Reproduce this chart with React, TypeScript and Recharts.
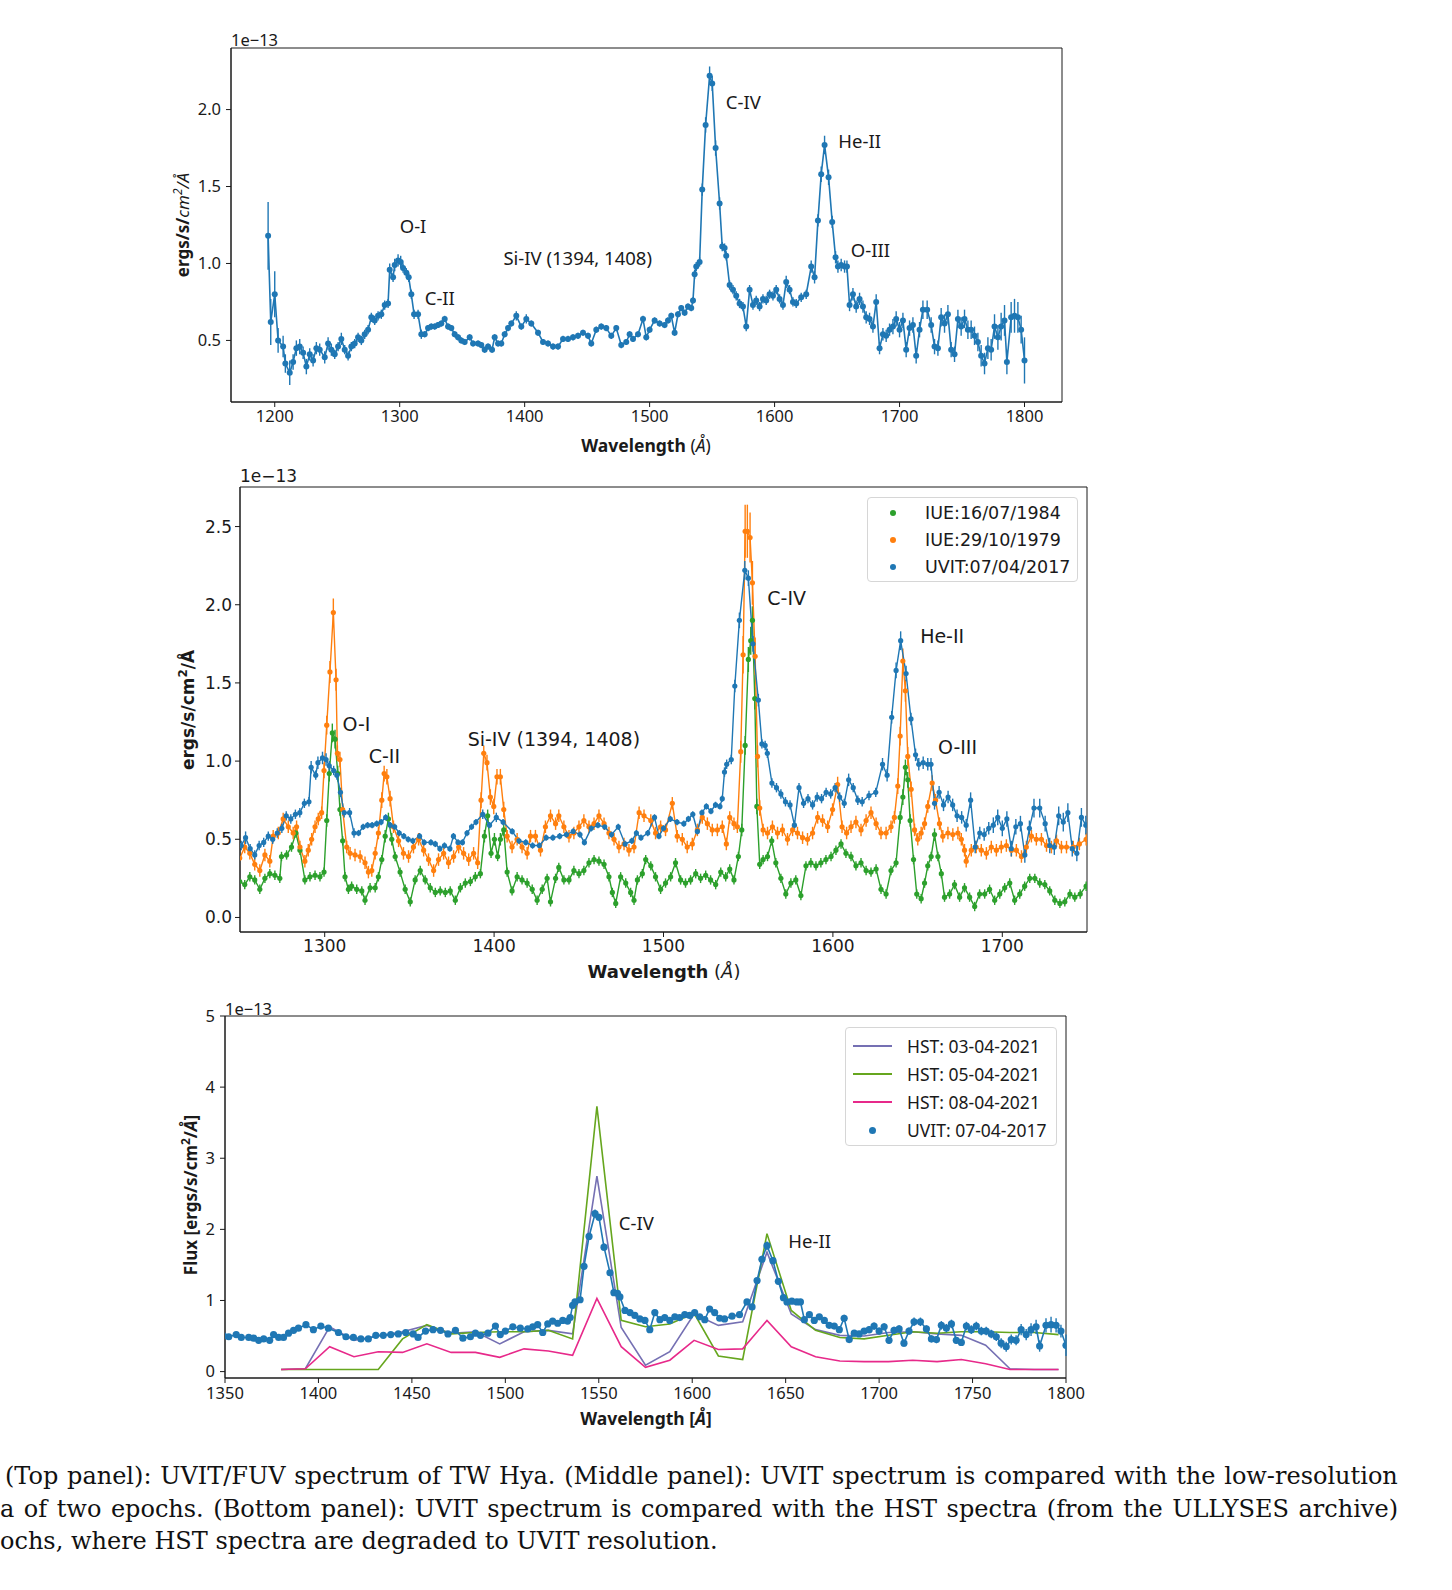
import React from 'react';
import { LineChart, Line, XAxis, YAxis, ErrorBar, ReferenceArea, ReferenceDot } from 'recharts';

// flux in units of 1e-13 ergs/s/cm^2/Å; rows are [wavelength Å, flux, 1-sigma error]
const UVIT_2017: [number, number, number][] = [
  [1194.7, 1.18, 0.22], [1196.8, 0.62, 0.15], [1200.0, 0.80, 0.15], [1202.7, 0.50, 0.08],
  [1206.7, 0.46, 0.07], [1208.5, 0.35, 0.06], [1212.0, 0.29, 0.08], [1214.7, 0.36, 0.05],
  [1217.3, 0.45, 0.05], [1220.0, 0.46, 0.05], [1222.7, 0.42, 0.04], [1225.3, 0.33, 0.05],
  [1228.0, 0.41, 0.04], [1230.7, 0.37, 0.04], [1233.3, 0.45, 0.04], [1236.0, 0.44, 0.04],
  [1240.0, 0.39, 0.04], [1242.7, 0.48, 0.04], [1245.3, 0.44, 0.04], [1248.0, 0.41, 0.03],
  [1250.7, 0.46, 0.03], [1253.3, 0.51, 0.04], [1256.0, 0.44, 0.03], [1258.7, 0.40, 0.03],
  [1261.3, 0.46, 0.03], [1264.0, 0.48, 0.03], [1266.7, 0.52, 0.03], [1269.3, 0.50, 0.03],
  [1272.0, 0.54, 0.03], [1274.7, 0.57, 0.03], [1277.3, 0.65, 0.03], [1280.0, 0.63, 0.03],
  [1282.7, 0.66, 0.03], [1285.3, 0.67, 0.03], [1288.0, 0.73, 0.03], [1290.7, 0.74, 0.03],
  [1292.0, 0.96, 0.04], [1294.7, 0.91, 0.03], [1296.0, 0.99, 0.04], [1298.7, 1.02, 0.04],
  [1300.8, 1.01, 0.04], [1302.7, 0.97, 0.03], [1305.3, 0.94, 0.03], [1307.2, 0.91, 0.03],
  [1309.3, 0.80, 0.03], [1311.5, 0.67, 0.03], [1314.7, 0.67, 0.03], [1317.3, 0.54, 0.03],
  [1320.0, 0.54, 0.02], [1322.7, 0.58, 0.02], [1325.3, 0.59, 0.02], [1328.0, 0.59, 0.02],
  [1330.7, 0.60, 0.02], [1333.3, 0.61, 0.02], [1336.0, 0.64, 0.02], [1338.7, 0.59, 0.02],
  [1341.3, 0.58, 0.02], [1344.0, 0.54, 0.02], [1346.7, 0.52, 0.02], [1349.3, 0.50, 0.02],
  [1352.0, 0.49, 0.02], [1356.0, 0.52, 0.02], [1358.7, 0.48, 0.02], [1362.7, 0.48, 0.02],
  [1365.3, 0.47, 0.02], [1368.0, 0.44, 0.02], [1370.7, 0.46, 0.02], [1373.9, 0.44, 0.02],
  [1376.0, 0.52, 0.02], [1378.7, 0.48, 0.02], [1381.3, 0.48, 0.02], [1384.0, 0.54, 0.02],
  [1386.7, 0.58, 0.02], [1389.3, 0.61, 0.02], [1393.3, 0.66, 0.03], [1397.3, 0.59, 0.02],
  [1401.3, 0.64, 0.03], [1405.3, 0.61, 0.02], [1410.7, 0.55, 0.02], [1414.7, 0.49, 0.02],
  [1418.7, 0.48, 0.02], [1422.7, 0.46, 0.02], [1426.7, 0.46, 0.02], [1430.7, 0.51, 0.02],
  [1434.7, 0.51, 0.02], [1438.7, 0.52, 0.02], [1442.7, 0.53, 0.02], [1446.7, 0.55, 0.02],
  [1450.7, 0.53, 0.02], [1453.3, 0.48, 0.02], [1457.3, 0.57, 0.02], [1461.3, 0.59, 0.02],
  [1465.3, 0.58, 0.02], [1469.3, 0.53, 0.02], [1473.3, 0.58, 0.02], [1477.3, 0.47, 0.02],
  [1481.3, 0.49, 0.02], [1484.0, 0.54, 0.02], [1486.7, 0.51, 0.02], [1490.7, 0.54, 0.02],
  [1494.7, 0.64, 0.02], [1497.3, 0.52, 0.02], [1500.0, 0.57, 0.02], [1504.0, 0.63, 0.02],
  [1508.0, 0.61, 0.02], [1512.0, 0.60, 0.02], [1514.7, 0.63, 0.02], [1517.3, 0.66, 0.02],
  [1520.0, 0.55, 0.02], [1522.7, 0.67, 0.02], [1525.3, 0.71, 0.02], [1528.0, 0.68, 0.02],
  [1530.7, 0.72, 0.02], [1533.3, 0.71, 0.02], [1534.7, 0.76, 0.02], [1536.0, 0.93, 0.03],
  [1537.3, 0.98, 0.03], [1540.0, 1.01, 0.03], [1542.1, 1.48, 0.04], [1544.8, 1.90, 0.05],
  [1548.0, 2.22, 0.06], [1550.1, 2.17, 0.05], [1552.8, 1.75, 0.05], [1556.0, 1.39, 0.04],
  [1558.1, 1.11, 0.03], [1560.0, 1.10, 0.03], [1561.3, 1.05, 0.03], [1564.0, 0.86, 0.03],
  [1566.7, 0.83, 0.03], [1569.3, 0.79, 0.03], [1572.0, 0.74, 0.03], [1574.7, 0.72, 0.03],
  [1577.3, 0.59, 0.03], [1580.0, 0.83, 0.03], [1582.7, 0.73, 0.03], [1585.3, 0.76, 0.03],
  [1588.0, 0.72, 0.03], [1590.7, 0.77, 0.03], [1593.3, 0.76, 0.03], [1596.0, 0.80, 0.03],
  [1598.7, 0.79, 0.03], [1601.3, 0.83, 0.03], [1604.0, 0.77, 0.03], [1606.7, 0.73, 0.03],
  [1609.3, 0.88, 0.04], [1612.0, 0.83, 0.03], [1614.7, 0.75, 0.03], [1617.3, 0.74, 0.03],
  [1621.3, 0.78, 0.03], [1625.3, 0.80, 0.03], [1629.3, 0.98, 0.04], [1632.0, 0.91, 0.04],
  [1634.7, 1.28, 0.04], [1637.3, 1.58, 0.05], [1640.0, 1.77, 0.06], [1643.2, 1.56, 0.05],
  [1646.1, 1.27, 0.04], [1648.8, 1.04, 0.04], [1650.7, 0.98, 0.04], [1653.3, 0.99, 0.04],
  [1656.0, 0.98, 0.04], [1657.9, 0.98, 0.04], [1660.0, 0.73, 0.04], [1662.7, 0.80, 0.04],
  [1665.3, 0.72, 0.04], [1668.0, 0.77, 0.04], [1670.7, 0.72, 0.04], [1673.3, 0.65, 0.04],
  [1676.0, 0.64, 0.04], [1678.7, 0.59, 0.04], [1681.3, 0.75, 0.05], [1684.0, 0.45, 0.04],
  [1686.7, 0.54, 0.04], [1689.3, 0.53, 0.04], [1692.0, 0.57, 0.04], [1694.7, 0.59, 0.05],
  [1697.3, 0.64, 0.05], [1700.0, 0.57, 0.05], [1702.7, 0.63, 0.05], [1705.3, 0.44, 0.05],
  [1708.0, 0.58, 0.05], [1710.7, 0.60, 0.05], [1713.3, 0.40, 0.05], [1716.0, 0.57, 0.05],
  [1718.7, 0.70, 0.06], [1722.1, 0.70, 0.06], [1725.3, 0.60, 0.05], [1728.0, 0.46, 0.05],
  [1730.7, 0.45, 0.05], [1733.3, 0.65, 0.06], [1736.0, 0.61, 0.06], [1738.7, 0.67, 0.06],
  [1741.3, 0.44, 0.05], [1744.0, 0.41, 0.05], [1746.7, 0.64, 0.06], [1749.3, 0.59, 0.06],
  [1752.0, 0.64, 0.06], [1754.7, 0.57, 0.06], [1757.3, 0.57, 0.06], [1760.0, 0.53, 0.06],
  [1762.7, 0.49, 0.06], [1765.3, 0.40, 0.07], [1768.0, 0.35, 0.07], [1770.7, 0.45, 0.07],
  [1773.3, 0.44, 0.07], [1776.0, 0.59, 0.08], [1778.7, 0.52, 0.08], [1781.3, 0.59, 0.09],
  [1784.0, 0.63, 0.10], [1785.9, 0.36, 0.08], [1789.3, 0.65, 0.10], [1792.0, 0.66, 0.11],
  [1794.7, 0.65, 0.10], [1797.3, 0.57, 0.09], [1800.0, 0.37, 0.15],
];

const IUE_1979: [number, number, number][] = [
  [1249.9, 0.38, 0.04], [1252.8, 0.45, 0.04], [1255.8, 0.41, 0.04], [1258.7, 0.34, 0.04],
  [1261.7, 0.30, 0.04], [1264.7, 0.40, 0.04], [1267.6, 0.36, 0.04], [1269.6, 0.52, 0.04],
  [1272.6, 0.54, 0.04], [1275.5, 0.63, 0.04], [1278.5, 0.58, 0.04], [1281.4, 0.54, 0.04],
  [1283.4, 0.58, 0.04], [1285.4, 0.45, 0.04], [1288.3, 0.36, 0.04], [1290.3, 0.43, 0.04],
  [1292.3, 0.50, 0.04], [1294.3, 0.58, 0.04], [1296.2, 0.63, 0.04], [1298.2, 0.67, 0.04],
  [1299.6, 0.94, 0.05], [1301.2, 1.23, 0.06], [1303.1, 1.57, 0.07], [1305.1, 1.95, 0.09],
  [1306.7, 1.52, 0.07], [1307.5, 1.05, 0.05], [1309.0, 1.01, 0.05], [1310.6, 0.69, 0.04],
  [1313.0, 0.45, 0.04], [1315.0, 0.41, 0.04], [1317.9, 0.40, 0.04], [1320.9, 0.39, 0.04],
  [1323.8, 0.35, 0.04], [1325.8, 0.29, 0.04], [1327.8, 0.30, 0.04], [1329.8, 0.41, 0.04],
  [1331.7, 0.54, 0.04], [1333.7, 0.75, 0.05], [1335.1, 0.92, 0.05], [1336.7, 0.90, 0.05],
  [1338.6, 0.76, 0.05], [1340.6, 0.58, 0.04], [1343.6, 0.49, 0.04], [1346.5, 0.41, 0.04],
  [1349.5, 0.39, 0.04], [1352.4, 0.45, 0.04], [1355.4, 0.50, 0.04], [1358.4, 0.43, 0.04],
  [1361.3, 0.37, 0.04], [1364.3, 0.30, 0.04], [1367.2, 0.37, 0.04], [1370.2, 0.41, 0.04],
  [1373.1, 0.35, 0.04], [1376.1, 0.39, 0.04], [1379.1, 0.45, 0.04], [1382.0, 0.41, 0.04],
  [1385.0, 0.37, 0.04], [1387.9, 0.41, 0.04], [1390.3, 0.35, 0.04], [1392.3, 0.75, 0.05],
  [1393.9, 1.05, 0.05], [1395.8, 0.99, 0.05], [1397.8, 0.77, 0.05], [1399.8, 0.71, 0.05],
  [1401.7, 0.90, 0.05], [1403.7, 0.90, 0.05], [1405.7, 0.69, 0.05], [1407.7, 0.52, 0.04],
  [1410.6, 0.45, 0.04], [1413.6, 0.50, 0.04], [1416.5, 0.45, 0.04], [1419.5, 0.41, 0.04],
  [1421.5, 0.52, 0.04], [1424.4, 0.52, 0.04], [1427.4, 0.43, 0.04], [1430.3, 0.58, 0.04],
  [1433.3, 0.65, 0.04], [1436.3, 0.60, 0.04], [1438.2, 0.65, 0.04], [1441.2, 0.58, 0.04],
  [1444.2, 0.52, 0.04], [1447.1, 0.54, 0.04], [1450.1, 0.58, 0.04], [1453.0, 0.62, 0.04],
  [1456.0, 0.58, 0.04], [1459.0, 0.60, 0.04], [1461.9, 0.65, 0.04], [1464.9, 0.60, 0.04],
  [1467.8, 0.54, 0.04], [1470.8, 0.50, 0.04], [1473.7, 0.45, 0.04], [1476.7, 0.47, 0.04],
  [1479.6, 0.43, 0.04], [1482.6, 0.45, 0.04], [1485.6, 0.67, 0.04], [1488.5, 0.65, 0.04],
  [1492.5, 0.62, 0.04], [1495.3, 0.54, 0.04], [1498.3, 0.58, 0.04], [1501.2, 0.56, 0.04],
  [1505.2, 0.73, 0.04], [1508.1, 0.52, 0.04], [1511.1, 0.50, 0.04], [1514.0, 0.45, 0.04],
  [1517.0, 0.47, 0.04], [1520.0, 0.56, 0.04], [1522.9, 0.64, 0.04], [1525.9, 0.60, 0.04],
  [1528.8, 0.56, 0.04], [1531.8, 0.56, 0.04], [1534.7, 0.58, 0.04], [1537.1, 0.47, 0.04],
  [1539.1, 0.64, 0.04], [1541.6, 0.60, 0.04], [1543.6, 0.58, 0.04], [1545.6, 1.06, 0.07],
  [1547.0, 1.68, 0.12], [1548.2, 2.47, 0.17], [1549.5, 2.47, 0.17], [1551.1, 2.43, 0.16],
  [1552.5, 2.14, 0.14], [1554.1, 1.67, 0.12], [1555.5, 1.03, 0.07], [1556.8, 0.70, 0.05],
  [1558.8, 0.56, 0.04], [1561.4, 0.54, 0.04], [1564.3, 0.58, 0.04], [1567.3, 0.54, 0.04],
  [1570.2, 0.56, 0.04], [1573.2, 0.50, 0.04], [1576.2, 0.56, 0.04], [1579.1, 0.54, 0.04],
  [1582.1, 0.51, 0.04], [1585.0, 0.50, 0.04], [1588.0, 0.54, 0.04], [1591.0, 0.64, 0.04],
  [1593.9, 0.62, 0.04], [1596.9, 0.58, 0.04], [1599.8, 0.69, 0.04], [1602.8, 0.85, 0.05],
  [1605.4, 0.58, 0.04], [1608.1, 0.54, 0.04], [1610.7, 0.58, 0.04], [1613.6, 0.61, 0.04],
  [1616.6, 0.56, 0.04], [1619.6, 0.62, 0.04], [1622.5, 0.67, 0.04], [1625.5, 0.60, 0.04],
  [1628.4, 0.54, 0.04], [1631.4, 0.54, 0.04], [1634.3, 0.58, 0.04], [1636.3, 0.64, 0.04],
  [1638.3, 0.84, 0.05], [1639.7, 1.16, 0.06], [1641.3, 1.64, 0.08], [1642.8, 1.45, 0.07],
  [1644.2, 1.03, 0.06], [1646.2, 0.82, 0.05], [1648.2, 0.56, 0.04], [1650.1, 0.50, 0.04],
  [1652.1, 0.54, 0.04], [1654.1, 0.60, 0.04], [1656.0, 0.71, 0.04], [1658.6, 0.86, 0.05],
  [1660.6, 0.75, 0.04], [1662.9, 0.60, 0.04], [1664.9, 0.52, 0.04], [1667.9, 0.54, 0.04],
  [1670.8, 0.53, 0.04], [1673.8, 0.54, 0.04], [1675.8, 0.50, 0.04], [1677.7, 0.43, 0.04],
  [1678.7, 0.36, 0.04], [1681.7, 0.43, 0.04], [1684.6, 0.45, 0.04], [1687.6, 0.43, 0.04],
  [1690.6, 0.41, 0.04], [1693.5, 0.45, 0.04], [1696.5, 0.43, 0.04], [1699.4, 0.45, 0.04],
  [1702.4, 0.46, 0.04], [1705.4, 0.43, 0.04], [1708.3, 0.43, 0.04], [1711.3, 0.39, 0.04],
  [1714.2, 0.45, 0.04], [1717.2, 0.52, 0.04], [1720.1, 0.50, 0.04], [1723.1, 0.50, 0.04],
  [1726.1, 0.46, 0.04], [1729.0, 0.45, 0.04], [1732.0, 0.49, 0.04], [1734.9, 0.45, 0.04],
  [1737.9, 0.45, 0.04], [1741.9, 0.45, 0.04], [1745.5, 0.47, 0.04], [1749.5, 0.50, 0.04],
];

const IUE_1984: [number, number, number][] = [
  [1249.9, 0.23, 0.03], [1252.8, 0.21, 0.03], [1255.8, 0.26, 0.03], [1258.7, 0.24, 0.03],
  [1261.7, 0.18, 0.03], [1264.7, 0.25, 0.03], [1267.6, 0.28, 0.03], [1270.6, 0.27, 0.03],
  [1273.5, 0.25, 0.03], [1274.5, 0.39, 0.03], [1277.5, 0.40, 0.03], [1280.4, 0.45, 0.03],
  [1283.0, 0.54, 0.03], [1285.4, 0.43, 0.03], [1288.3, 0.24, 0.03], [1291.3, 0.26, 0.03],
  [1294.3, 0.27, 0.03], [1297.2, 0.26, 0.03], [1299.6, 0.29, 0.03], [1301.2, 0.62, 0.04],
  [1302.7, 0.92, 0.05], [1304.5, 1.18, 0.06], [1306.1, 1.14, 0.06], [1307.7, 0.92, 0.05],
  [1309.0, 0.69, 0.04], [1310.6, 0.49, 0.03], [1312.0, 0.26, 0.03], [1314.0, 0.18, 0.03],
  [1315.9, 0.20, 0.03], [1318.9, 0.18, 0.03], [1321.9, 0.17, 0.03], [1323.8, 0.11, 0.03],
  [1326.8, 0.19, 0.03], [1329.8, 0.19, 0.03], [1331.7, 0.26, 0.03], [1333.7, 0.37, 0.03],
  [1335.7, 0.52, 0.04], [1337.6, 0.63, 0.04], [1339.6, 0.50, 0.04], [1341.6, 0.39, 0.03],
  [1344.5, 0.29, 0.03], [1347.5, 0.18, 0.03], [1350.5, 0.10, 0.03], [1353.4, 0.24, 0.03],
  [1356.4, 0.30, 0.03], [1359.3, 0.24, 0.03], [1362.3, 0.19, 0.03], [1365.3, 0.16, 0.03],
  [1368.2, 0.17, 0.03], [1371.2, 0.16, 0.03], [1374.1, 0.17, 0.03], [1377.1, 0.11, 0.03],
  [1380.1, 0.19, 0.03], [1383.0, 0.22, 0.03], [1386.0, 0.23, 0.03], [1388.9, 0.26, 0.03],
  [1391.9, 0.28, 0.03], [1394.3, 0.52, 0.04], [1396.2, 0.65, 0.04], [1398.2, 0.41, 0.03],
  [1400.2, 0.50, 0.04], [1402.1, 0.39, 0.03], [1403.7, 0.50, 0.04], [1405.7, 0.56, 0.04],
  [1407.7, 0.29, 0.03], [1410.6, 0.17, 0.03], [1413.6, 0.26, 0.03], [1416.5, 0.24, 0.03],
  [1419.5, 0.22, 0.03], [1422.5, 0.18, 0.03], [1425.4, 0.11, 0.03], [1428.4, 0.18, 0.03],
  [1431.3, 0.25, 0.03], [1433.3, 0.10, 0.03], [1436.3, 0.25, 0.03], [1438.2, 0.32, 0.03],
  [1441.2, 0.24, 0.03], [1444.2, 0.24, 0.03], [1447.1, 0.30, 0.03], [1450.1, 0.28, 0.03],
  [1453.0, 0.30, 0.03], [1456.0, 0.35, 0.03], [1459.0, 0.37, 0.03], [1461.9, 0.36, 0.03],
  [1464.9, 0.34, 0.03], [1467.8, 0.26, 0.03], [1469.8, 0.16, 0.03], [1471.8, 0.09, 0.03],
  [1474.7, 0.26, 0.03], [1477.7, 0.22, 0.03], [1480.6, 0.16, 0.03], [1482.6, 0.11, 0.03],
  [1484.6, 0.24, 0.03], [1487.5, 0.28, 0.03], [1489.5, 0.37, 0.03], [1492.5, 0.33, 0.03],
  [1495.3, 0.26, 0.03], [1498.3, 0.18, 0.03], [1501.2, 0.22, 0.03], [1504.2, 0.26, 0.03],
  [1507.1, 0.35, 0.03], [1510.1, 0.24, 0.03], [1513.0, 0.22, 0.03], [1516.0, 0.24, 0.03],
  [1519.0, 0.28, 0.03], [1521.9, 0.25, 0.03], [1524.9, 0.27, 0.03], [1527.8, 0.24, 0.03],
  [1530.8, 0.21, 0.03], [1533.8, 0.29, 0.03], [1536.7, 0.26, 0.03], [1539.1, 0.31, 0.03],
  [1541.6, 0.24, 0.03], [1544.2, 0.39, 0.03], [1546.2, 0.56, 0.04], [1548.2, 1.10, 0.06],
  [1550.1, 1.65, 0.08], [1551.5, 1.77, 0.09], [1552.5, 1.90, 0.09], [1553.9, 1.40, 0.07],
  [1555.1, 0.71, 0.05], [1556.8, 0.34, 0.03], [1558.8, 0.37, 0.03], [1561.4, 0.39, 0.03],
  [1563.9, 0.49, 0.03], [1566.3, 0.35, 0.03], [1569.3, 0.25, 0.03], [1572.2, 0.15, 0.03],
  [1575.2, 0.22, 0.03], [1578.1, 0.24, 0.03], [1581.1, 0.14, 0.03], [1584.1, 0.33, 0.03],
  [1587.0, 0.35, 0.03], [1590.0, 0.33, 0.03], [1592.9, 0.35, 0.03], [1595.9, 0.37, 0.03],
  [1598.9, 0.39, 0.03], [1601.8, 0.43, 0.03], [1604.8, 0.47, 0.03], [1607.7, 0.41, 0.03],
  [1610.7, 0.39, 0.03], [1613.6, 0.33, 0.03], [1616.6, 0.35, 0.03], [1619.6, 0.30, 0.03],
  [1622.5, 0.29, 0.03], [1625.5, 0.31, 0.03], [1628.4, 0.18, 0.03], [1631.4, 0.15, 0.03],
  [1634.3, 0.30, 0.03], [1637.3, 0.35, 0.03], [1639.7, 0.64, 0.04], [1641.3, 0.77, 0.05],
  [1642.8, 0.96, 0.05], [1644.2, 0.88, 0.05], [1645.6, 0.62, 0.04], [1647.6, 0.37, 0.03],
  [1649.5, 0.15, 0.03], [1652.1, 0.12, 0.03], [1654.1, 0.22, 0.03], [1656.0, 0.33, 0.03],
  [1658.0, 0.39, 0.03], [1660.0, 0.53, 0.04], [1662.0, 0.39, 0.03], [1664.0, 0.28, 0.03],
  [1665.9, 0.13, 0.03], [1668.9, 0.15, 0.03], [1671.8, 0.21, 0.03], [1674.8, 0.13, 0.03],
  [1677.7, 0.19, 0.03], [1680.7, 0.13, 0.03], [1683.7, 0.07, 0.03], [1686.6, 0.15, 0.03],
  [1689.6, 0.15, 0.03], [1692.5, 0.18, 0.03], [1695.5, 0.11, 0.03], [1698.5, 0.15, 0.03],
  [1701.4, 0.19, 0.03], [1704.4, 0.22, 0.03], [1707.3, 0.11, 0.03], [1710.3, 0.15, 0.03],
  [1713.2, 0.20, 0.03], [1716.2, 0.25, 0.03], [1719.2, 0.25, 0.03], [1722.1, 0.22, 0.03],
  [1725.1, 0.21, 0.03], [1728.0, 0.17, 0.03], [1731.0, 0.11, 0.03], [1734.0, 0.09, 0.03],
  [1736.9, 0.10, 0.03], [1739.9, 0.15, 0.03], [1742.8, 0.13, 0.03], [1746.0, 0.15, 0.03],
  [1749.5, 0.20, 0.03],
];

// HST (ULLYSES) spectra degraded to UVIT resolution
const HST_WAVE = [
  1380, 1393, 1406, 1419, 1432, 1445, 1458, 1471, 1484, 1497, 1510, 1523, 1536, 1549, 1562, 1575, 1588,
  1601, 1614, 1627, 1640, 1653, 1666, 1679, 1692, 1705, 1718, 1731, 1744, 1757, 1770, 1783, 1796,
];
const HST_03_04 = [
  0.03, 0.04, 0.63, 0.44, 0.50, 0.56, 0.65, 0.54, 0.56, 0.39, 0.56, 0.58, 0.53, 2.75, 0.62, 0.09, 0.28,
  0.81, 0.65, 0.70, 1.68, 0.81, 0.59, 0.51, 0.50, 0.55, 0.56, 0.53, 0.51, 0.37, 0.04, 0.03, 0.03,
];
const HST_05_04 = [
  0.03, 0.03, 0.03, 0.03, 0.03, 0.46, 0.66, 0.53, 0.55, 0.56, 0.56, 0.58, 0.46, 3.73, 0.72, 0.63, 0.67,
  0.82, 0.22, 0.17, 1.94, 0.86, 0.58, 0.48, 0.46, 0.51, 0.56, 0.54, 0.56, 0.56, 0.55, 0.55, 0.52,
];
const HST_08_04 = [
  0.03, 0.04, 0.35, 0.21, 0.28, 0.27, 0.39, 0.27, 0.27, 0.20, 0.32, 0.29, 0.23, 1.03, 0.35, 0.06, 0.16,
  0.44, 0.31, 0.32, 0.72, 0.35, 0.21, 0.15, 0.14, 0.14, 0.16, 0.14, 0.17, 0.11, 0.03, 0.03, 0.03,
];

const TOP_X_TICKS = [1200, 1300, 1400, 1500, 1600, 1700, 1800];
const TOP_Y_TICKS = [0.5, 1.0, 1.5, 2.0];
const MID_X_TICKS = [1300, 1400, 1500, 1600, 1700];
const MID_Y_TICKS = [0, 0.5, 1.0, 1.5, 2.0, 2.5];
const BOT_X_TICKS = [1350, 1400, 1450, 1500, 1550, 1600, 1650, 1700, 1750, 1800];
const BOT_Y_TICKS = [0, 1, 2, 3, 4, 5];

// line identifications: [label, wavelength, flux] where the text starts
const TOP_NOTES: [string, number, number][] = [
  ['O-I', 1300, 1.25], ['C-II', 1320, 0.78], ['Si-IV (1394, 1408)', 1383, 1.04],
  ['C-IV', 1561, 2.05], ['He-II', 1651, 1.8], ['O-III', 1661, 1.09],
];
const MID_NOTES: [string, number, number][] = [
  ['O-I', 1310.5, 1.24], ['C-II', 1326, 1.03], ['Si-IV (1394, 1408)', 1384.4, 1.14],
  ['C-IV', 1561.3, 2.04], ['He-II', 1651.5, 1.8], ['O-III', 1662, 1.09],
];
const BOT_NOTES: [string, number, number][] = [['C-IV', 1560.7, 2.09], ['He-II', 1651.4, 1.84]];

const MID_LEGEND = ['IUE:16/07/1984', 'IUE:29/10/1979', 'UVIT:07/04/2017'];
const BOT_LEGEND = ['HST: 03-04-2021', 'HST: 05-04-2021', 'HST: 08-04-2021', 'UVIT: 07-04-2017'];

const CAPTION = [
  '(Top panel): UVIT/FUV spectrum of TW Hya. (Middle panel): UVIT spectrum is compared with the low-resolution',
  'a of two epochs. (Bottom panel): UVIT spectrum is compared with the HST spectra (from the ULLYSES archive)',
  'ochs, where HST spectra are degraded to UVIT resolution.',
];

const BLUE = '#1f77b4';
const ORANGE = '#ff7f0e';
const GREEN = '#2ca02c';
const HST_COLORS = ['#7570b3', '#66a61e', '#e7298a'];
const INK = '#1a1a1a';
const NOTO = "'Noto Sans', 'Open Sans', sans-serif";
const DEJAVU = "'DejaVu Sans', sans-serif";

const TOP_X = [1165, 1830];
const TOP_Y = [0.1, 2.4];
const MID_X = [1250, 1750];
const MID_Y = [-0.093, 2.753];
const BOT_X = [1350, 1800];
const BOT_Y = [-0.09, 5];

type Row = { w: number; f: number; e: number };
const toRows = (rows: [number, number, number][]): Row[] => rows.map(([w, f, e]) => ({ w, f, e }));
// keep points just outside the axis so the line runs to the frame, but drop their error bars
const forAxis = (rows: Row[], [lo, hi]: number[]) =>
  rows.filter((r) => r.w >= lo - 6 && r.w <= hi + 6).map((r) => (r.w < lo || r.w > hi ? { ...r, e: 0 } : r));

const uvitRows = toRows(UVIT_2017);

function spectrum(key: string, data: Row[], color: string, r: number, width: number) {
  return (
    <Line
      key={key}
      data={data}
      dataKey="f"
      type="linear"
      stroke={color}
      strokeWidth={width}
      dot={{ r, fill: color, stroke: 'none' }}
      activeDot={false}
      isAnimationActive={false}
    >
      <ErrorBar dataKey="e" direction="y" width={0} stroke={color} strokeWidth={1.4} isAnimationActive={false} />
    </Line>
  );
}

const noteLabel = (text: string, family: string, size: number) => (props: any) => {
  const vb = props.viewBox || {};
  return (
    <text x={vb.x} y={(vb.y ?? 0) + (vb.height ?? 0) / 2} dominantBaseline="central" fontFamily={family} fontSize={size} fill={INK}>
      {text}
    </text>
  );
};

function notes(list: [string, number, number][], family: string, size: number) {
  return list.map(([text, x, y]) => (
    <ReferenceDot key={text} x={x} y={y} r={0} fill="none" stroke="none" ifOverflow="visible" label={noteLabel(text, family, size)} />
  ));
}

function frame(xd: number[], yd: number[]) {
  return <ReferenceArea x1={xd[0]} x2={xd[1]} y1={yd[0]} y2={yd[1]} fill="none" stroke={INK} strokeWidth={1} ifOverflow="visible" />;
}

const abs = (left: number, top: number, extra: React.CSSProperties = {}): React.CSSProperties => ({
  position: 'absolute', left, top, whiteSpace: 'nowrap', color: INK, ...extra,
});
const centred = (left: number, top: number, extra: React.CSSProperties = {}) =>
  abs(left, top, { transform: 'translate(-50%, -50%)', ...extra });
const rotated = (left: number, top: number, extra: React.CSSProperties = {}) =>
  abs(left, top, { transform: 'translate(-50%, -50%) rotate(-90deg)', ...extra });

const sup: React.CSSProperties = { fontSize: '0.7em', verticalAlign: '0.55em', lineHeight: 0 };

function TopPanel() {
  const tick = { fontSize: 16.5, fontFamily: NOTO, fill: INK };
  return (
    <div style={{ position: 'absolute', left: 0, top: 0 }}>
      <LineChart width={1100} height={440} margin={{ top: 48, right: 38, bottom: 8, left: 171 }}>
        <XAxis type="number" dataKey="w" domain={TOP_X} ticks={TOP_X_TICKS} allowDataOverflow interval={0}
          height={30} tick={tick} tickSize={5} tickMargin={3} axisLine={{ stroke: INK }} tickLine={{ stroke: INK }} />
        <YAxis type="number" domain={TOP_Y} ticks={TOP_Y_TICKS} allowDataOverflow interval={0} width={60}
          tick={tick} tickSize={5} tickMargin={5} axisLine={{ stroke: INK }} tickLine={{ stroke: INK }}
          tickFormatter={(v: number) => v.toFixed(1)} />
        {spectrum('uvit', uvitRows, BLUE, 3, 1.6)}
        {frame(TOP_X, TOP_Y)}
        {notes(TOP_NOTES, NOTO, 18.5)}
      </LineChart>
      <div style={abs(231, 28, { fontFamily: NOTO, fontSize: 16.5 })}>1e−13</div>
      <div style={rotated(182, 225, { fontFamily: NOTO, fontSize: 17 })}>
        <b>ergs/s/</b><i>cm<span style={sup}>2</span>/Å</i>
      </div>
      <div style={centred(646, 445, { fontFamily: NOTO, fontSize: 17.5 })}>
        <b>Wavelength</b> (<i>Å</i>)
      </div>
    </div>
  );
}

function MiddlePanel() {
  const tick = { fontSize: 17, fontFamily: DEJAVU, fill: INK };
  const legendColors = [GREEN, ORANGE, BLUE];
  return (
    <div style={{ position: 'absolute', left: 0, top: 460 }}>
      <LineChart width={1120} height={500} margin={{ top: 27, right: 33, bottom: 8, left: 180 }}>
        <XAxis type="number" dataKey="w" domain={MID_X} ticks={MID_X_TICKS} allowDataOverflow interval={0}
          height={20} tick={tick} tickSize={5} tickMargin={3} axisLine={{ stroke: INK }} tickLine={{ stroke: INK }} />
        <YAxis type="number" domain={MID_Y} ticks={MID_Y_TICKS} allowDataOverflow interval={0} width={60}
          tick={tick} tickSize={5} tickMargin={3} axisLine={{ stroke: INK }} tickLine={{ stroke: INK }}
          tickFormatter={(v: number) => v.toFixed(1)} />
        {spectrum('iue84', forAxis(toRows(IUE_1984), MID_X), GREEN, 2.6, 1.4)}
        {spectrum('iue79', forAxis(toRows(IUE_1979), MID_X), ORANGE, 2.6, 1.4)}
        {spectrum('uvit', forAxis(uvitRows, MID_X), BLUE, 2.6, 1.4)}
        {frame(MID_X, MID_Y)}
        {notes(MID_NOTES, DEJAVU, 19)}
      </LineChart>
      <div style={abs(240, 6, { fontFamily: DEJAVU, fontSize: 17 })}>1e−13</div>
      <div style={rotated(188, 250, { fontFamily: DEJAVU, fontSize: 17, fontWeight: 'bold' })}>
        ergs/s/cm<span style={sup}>2</span>/Å
      </div>
      <div style={centred(664, 511, { fontFamily: DEJAVU, fontSize: 18 })}>
        <b>Wavelength</b> (<i>Å</i>)
      </div>
      <div style={{ position: 'absolute', left: 867, top: 37, width: 211, height: 85, boxSizing: 'border-box',
        border: '1px solid #d6d6d6', borderRadius: 4, background: 'rgba(255,255,255,0.85)' }}>
        {MID_LEGEND.map((name, i) => (
          <div key={name} style={{ position: 'absolute', left: 0, top: 14.5 + 27.2 * i, width: '100%' }}>
            <div style={{ position: 'absolute', left: 22, top: -3, width: 6, height: 6, borderRadius: 3, background: legendColors[i] }} />
            <div style={abs(57, 0, { transform: 'translateY(-50%)', fontFamily: DEJAVU, fontSize: 17.5 })}>{name}</div>
          </div>
        ))}
      </div>
    </div>
  );
}

function BottomPanel() {
  const tick = { fontSize: 16.5, fontFamily: NOTO, fill: INK };
  const hstSeries = [HST_03_04, HST_05_04, HST_08_04];
  return (
    <div style={{ position: 'absolute', left: 0, top: 990 }}>
      <LineChart width={1100} height={420} margin={{ top: 26, right: 34, bottom: 8, left: 165 }}>
        <XAxis type="number" dataKey="w" domain={BOT_X} ticks={BOT_X_TICKS} allowDataOverflow interval={0}
          height={24} tick={tick} tickSize={5} tickMargin={4} axisLine={{ stroke: INK }} tickLine={{ stroke: INK }} />
        <YAxis type="number" domain={BOT_Y} ticks={BOT_Y_TICKS} allowDataOverflow interval={0} width={60}
          tick={tick} tickSize={5} tickMargin={5} axisLine={{ stroke: INK }} tickLine={{ stroke: INK }} />
        {hstSeries.map((flux, k) => (
          <Line key={BOT_LEGEND[k]} data={HST_WAVE.map((w, i) => ({ w, f: flux[i] }))} dataKey="f" type="linear"
            stroke={HST_COLORS[k]} strokeWidth={1.6} dot={false} activeDot={false} isAnimationActive={false} />
        ))}
        {spectrum('uvit', forAxis(uvitRows, BOT_X), BLUE, 3.6, 1.6)}
        {frame(BOT_X, BOT_Y)}
        {notes(BOT_NOTES, NOTO, 18.5)}
      </LineChart>
      <div style={abs(225, 7, { fontFamily: NOTO, fontSize: 16.5 })}>1e−13</div>
      <div style={rotated(190, 205, { fontFamily: NOTO, fontSize: 17, fontWeight: 'bold' })}>
        Flux [ergs/s/cm<span style={sup}>2</span>/<i>Å</i>]
      </div>
      <div style={centred(646, 428, { fontFamily: NOTO, fontSize: 17.5, fontWeight: 'bold' })}>
        Wavelength [<i>Å</i>]
      </div>
      <div style={{ position: 'absolute', left: 845, top: 37, width: 212, height: 119, boxSizing: 'border-box',
        border: '1px solid #d6d6d6', borderRadius: 4, background: 'rgba(255,255,255,0.85)' }}>
        {BOT_LEGEND.map((name, i) => (
          <div key={name} style={{ position: 'absolute', left: 0, top: 18 + 28 * i, width: '100%' }}>
            {i < 3 ? (
              <div style={{ position: 'absolute', left: 7, top: -0.8, width: 39, height: 1.6, background: HST_COLORS[i] }} />
            ) : (
              <div style={{ position: 'absolute', left: 23, top: -3.5, width: 7, height: 7, borderRadius: 3.5, background: BLUE }} />
            )}
            <div style={abs(61, 0, { transform: 'translateY(-50%)', fontFamily: NOTO, fontSize: 17.5 })}>{name}</div>
          </div>
        ))}
      </div>
    </div>
  );
}

function CaptionLine({ text, left, width, spread }: { text: string; left: number; width?: number; spread: boolean }) {
  const style: React.CSSProperties = {
    position: 'absolute', left, width, height: 32, lineHeight: '32px', whiteSpace: 'nowrap',
    fontFamily: "'DejaVu Serif', 'Liberation Serif', serif", fontSize: 24, color: '#111',
  };
  if (!spread) return <div style={style}>{text}</div>;
  return (
    <div style={{ ...style, display: 'flex', justifyContent: 'space-between' }}>
      {text.split(' ').map((word, i) => <span key={i}>{word}</span>)}
    </div>
  );
}

export default function App() {
  return (
    <div style={{ position: 'absolute', left: 0, top: 0, width: 1452, height: 1590, background: '#fff', overflow: 'hidden' }}>
      <TopPanel />
      <MiddlePanel />
      <BottomPanel />
      <div style={{ position: 'absolute', left: 0, top: 1460 }}>
        <CaptionLine text={CAPTION[0]} left={5} width={1393} spread />
        <div style={{ position: 'absolute', top: 32.5 }}>
          <CaptionLine text={CAPTION[1]} left={0} width={1398} spread />
        </div>
        <div style={{ position: 'absolute', top: 65 }}>
          <CaptionLine text={CAPTION[2]} left={0} spread={false} />
        </div>
      </div>
    </div>
  );
}
